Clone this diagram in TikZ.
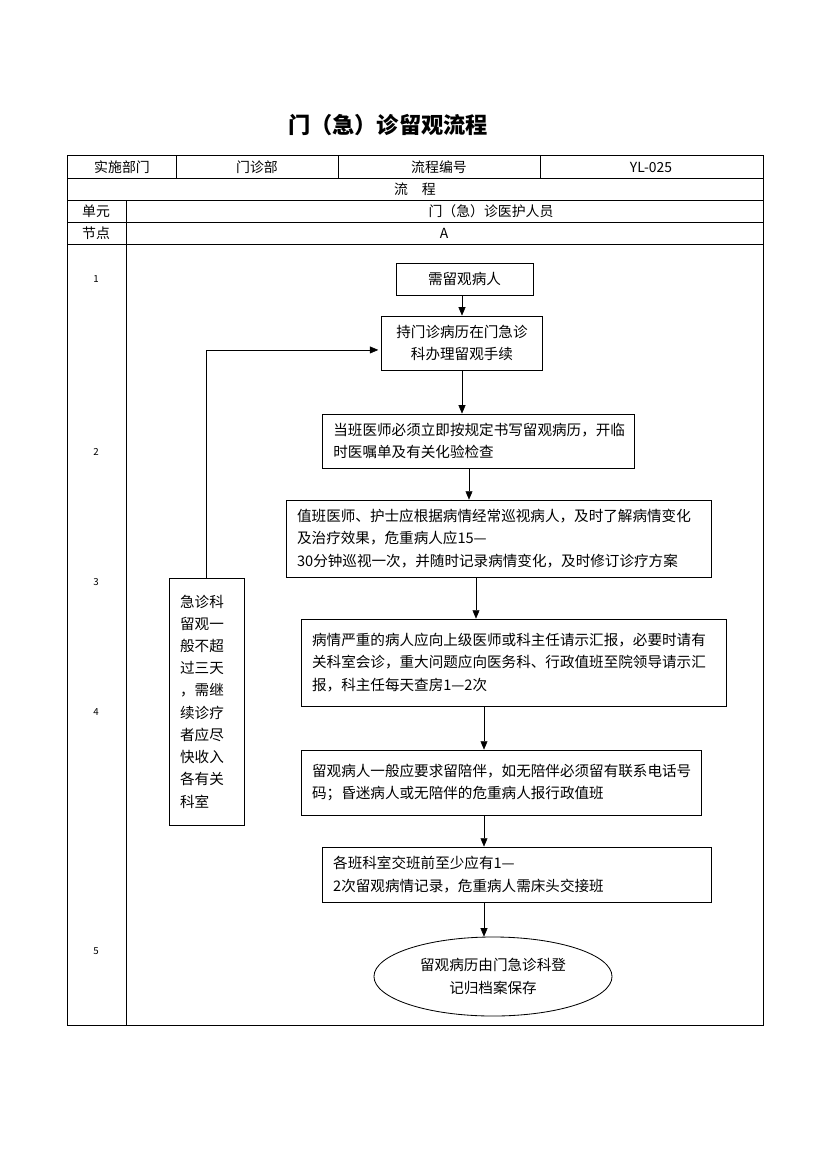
\documentclass[tikz,border=0pt]{standalone}
\usepackage{fontspec}
\setmainfont{Noto Sans CJK SC}
\usetikzlibrary{arrows.meta,shapes.geometric}

\begin{document}
\begin{tikzpicture}
[x=0.72pt,y=-0.72pt,>={Triangle[length=6pt,width=5pt]},
 box/.style={draw,line width=0.6pt,inner xsep=8pt,align=left,font=\fontsize{10.5}{16}\selectfont},
 cell/.style={font=\fontsize{10}{12}\selectfont},
 num/.style={font=\fontsize{7}{8}\selectfont}]
\useasboundingbox (0,0) rectangle (827,1169);

% title
\node [font=\fontsize{16}{18}\selectfont\bfseries] (title) at (388,125) {门（急）诊留观流程};

% table
\draw [line width=0.6pt] (67,155) rectangle (763,1025);
\foreach \y in {178,200,222,244}
  \draw [line width=0.6pt] (67,\y) -- (763,\y);
\foreach \x in {176,338,540}
  \draw [line width=0.6pt] (\x,155) -- (\x,178);
\draw [line width=0.6pt] (126,200) -- (126,1025);

% header cells
\node [cell] (dept) at (122,167) {实施部门};
\node [cell] (deptv) at (257,167) {门诊部};
\node [cell] (code) at (439,167) {流程编号};
\node [cell] (codev) at (651,167) {YL-025};
\node [cell] (flow) at (415,189) {流\quad 程};
\node [cell] (unit) at (96,211) {单元};
\node [cell] (unitv) at (491,211) {门（急）诊医护人员};
\node [cell] (pt) at (96,233) {节点};
\node [cell] (ptv) at (444,233) {A};

% step numbers
\foreach \n/\y in {1/279,2/452,3/582,4/712,5/951}
  \node [num] (s\n) at (96,\y) {\n};

% nodes
\node [box, align=center, minimum width=98.6pt, minimum height=23pt] (n1) at (464.5,279) {需留观病人};
\node [box, align=center, text width=100pt, minimum height=38.9pt] (n2) at (462,343) {持门诊病历在门急诊\\科办理留观手续};
\node [box, text width=209pt, minimum height=38.9pt] (n3) at (478.5,441) {当班医师必须立即按规定书写留观病历，开临\\时医嘱单及有关化验检查};
\node [box, text width=290pt, minimum height=55.4pt] (n4) at (498.5,538.5) {值班医师、护士应根据病情经常巡视病人，及时了解病情变化\\及治疗效果，危重病人应15—\\30分钟巡视一次，并随时记录病情变化，及时修订诊疗方案};
\node [box, text width=290pt, minimum height=62.6pt] (n5) at (513.5,662.5) {病情严重的病人应向上级医师或科主任请示汇报，必要时请有\\关科室会诊，重大问题应向医务科、行政值班至院领导请示汇\\报，科主任每天查房1—2次};
\node [box, text width=272pt, minimum height=46.8pt] (n6) at (501,782.5) {留观病人一般应要求留陪伴，如无陪伴必须留有联系电话号\\码；昏迷病人或无陪伴的危重病人报行政值班};
\node [box, text width=264pt, minimum height=39.6pt] (n7) at (516.5,874.5) {各班科室交班前至少应有1—\\2次留观病情记录，危重病人需床头交接班};
\node [box, ellipse, align=center, inner sep=0pt, minimum width=171.4pt, minimum height=56.9pt] (n8) at (493,976.5) {留观病历由门急诊科登\\记归档案保存};
\node [box, text width=38pt, minimum height=177.8pt] (side) at (206.5,701.5) {急诊科\\留观一\\般不超\\过三天\\，需继\\续诊疗\\者应尽\\快收入\\各有关\\科室};

% arrows
\coordinate (c34) at (469,0);
\coordinate (c45) at (476,0);
\coordinate (c58) at (484,0);
\draw [->] (n1.south -| n2) -- (n2.north);
\draw [->] (n2.south) -- (n2.south |- n3.north);
\draw [->] (n3.south -| c34) -- (n4.north -| c34);
\draw [->] (n4.south -| c45) -- (n5.north -| c45);
\draw [->] (n5.south -| c58) -- (n6.north -| c58);
\draw [->] (n6.south -| c58) -- (n7.north -| c58);
\draw [->] (n7.south -| c58) -- (n8.north -| c58);

% back line
\draw [->, shorten >=2pt] (side.north) |- ([yshift=-5pt]n2.west);

\end{tikzpicture}
\end{document}
